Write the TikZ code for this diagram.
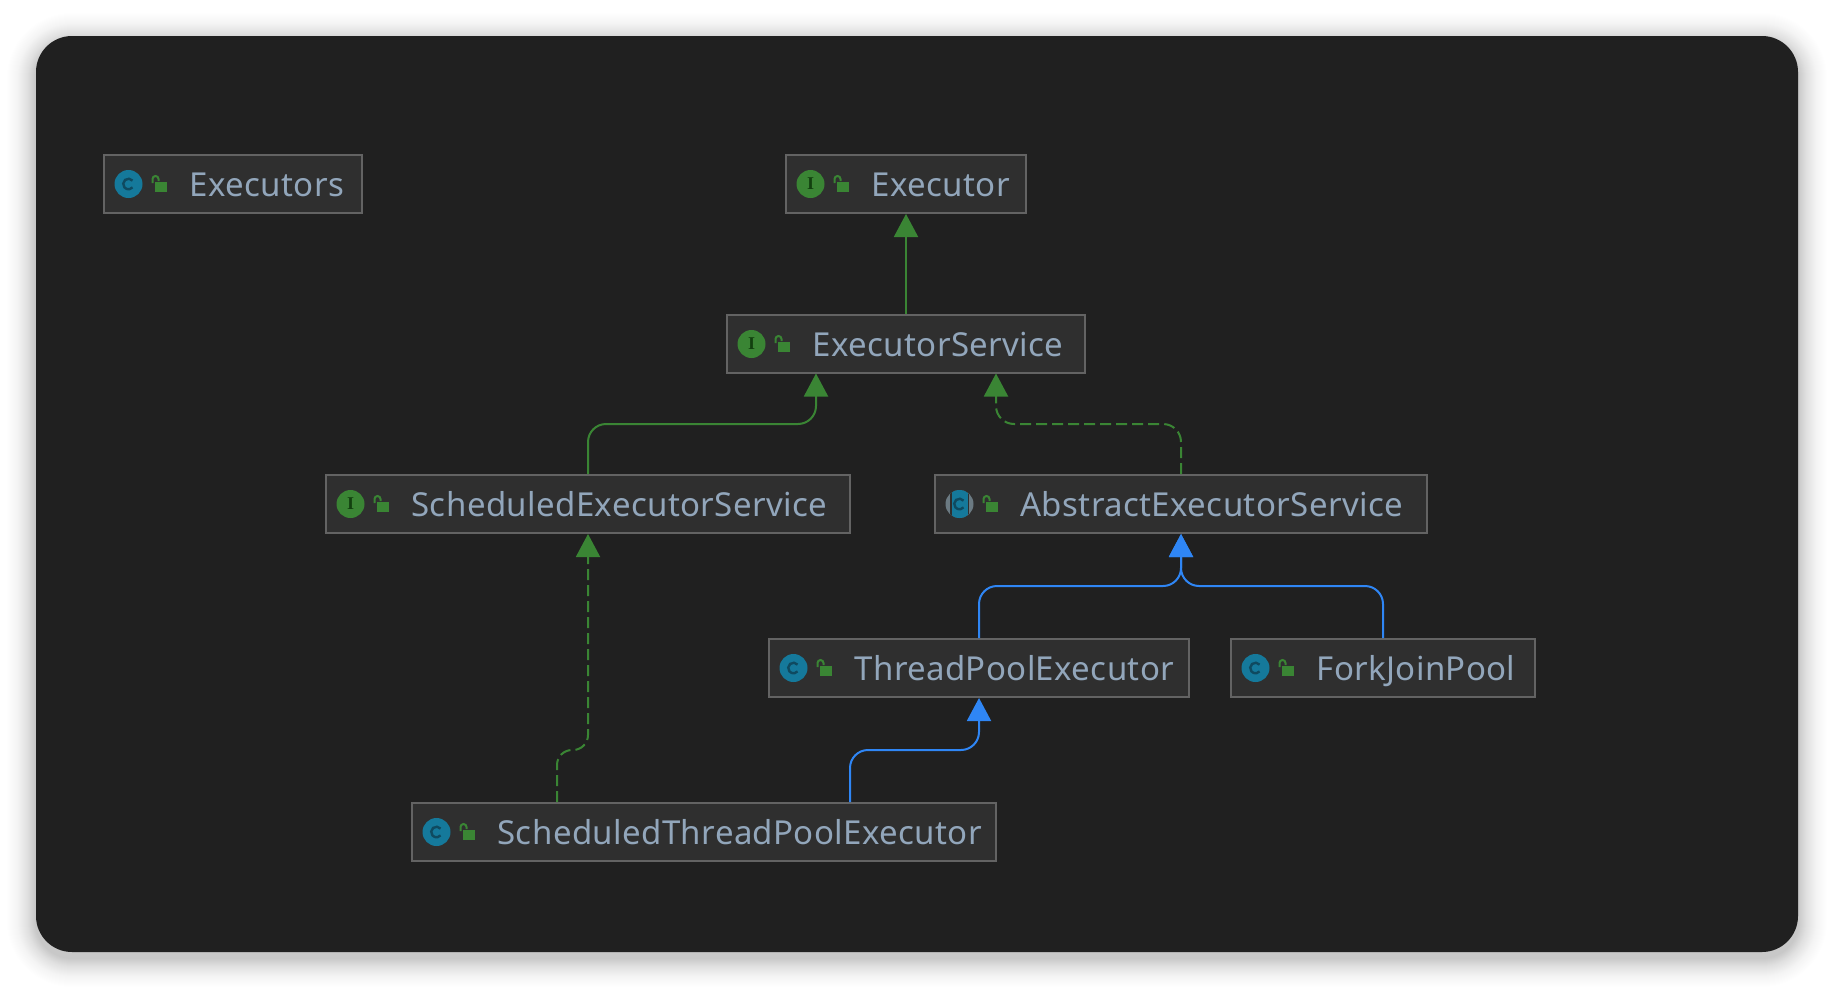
\documentclass[tikz,border=0pt]{standalone}
\usepackage{fontspec}
\setmainfont{Noto Sans}[LetterSpace=1.2]
\newfontfamily\serifb{Liberation Serif}
\usetikzlibrary{arrows.meta,calc}
\definecolor{panel}{HTML}{202020}
\definecolor{boxfill}{HTML}{2F2F2F}
\definecolor{boxline}{HTML}{636363}
\definecolor{labeltext}{HTML}{92A6BB}
\definecolor{gr}{HTML}{3A8534}
\definecolor{bl}{HTML}{2F86F5}
\definecolor{teal}{HTML}{15799B}
\definecolor{tealdark}{HTML}{0F4A60}
\definecolor{grdark}{HTML}{12400F}
\definecolor{lobe}{HTML}{6B7A82}
\tikzset{
  x=1pt,y=-1pt,
  umlbox/.style={draw=boxline,fill=boxfill,line width=2pt,inner sep=0pt,minimum height=58pt,
    text=labeltext,font=\fontsize{33}{33}\selectfont,text height=24pt,text depth=0pt},
  inh/.style={line width=2pt,rounded corners=18pt},
  greenline/.style={inh,draw=gr,-{Triangle[width=24pt,length=23pt,fill=gr]}},
  blueline/.style={inh,draw=bl,-{Triangle[width=24pt,length=23pt,fill=bl]}},
  realiz/.style={dash pattern=on 11pt off 5pt},
  pics/cglyph/.style={code={
    \draw[tealdark,line width=2.4pt] (4.06,-3.4) arc[start angle=40,end angle=320,radius=5.3pt];
  }},
  pics/classicon/.style={code={
    \fill[teal] (0,0) circle[radius=14pt];
    \pic {cglyph};
  }},
  pics/ifaceicon/.style={code={
    \fill[gr] (0,0) circle[radius=14pt];
    \node[inner sep=0pt,text=grdark,font=\serifb\bfseries\fontsize{18}{18}\selectfont] at (0,0) {I};
  }},
  pics/absicon/.style={code={
    \fill[lobe] (0,0) circle[radius=14pt];
    \begin{scope}
      \clip (0,0) circle[radius=14pt];
      \fill[boxfill] (-9.5,-15) rectangle (9.5,15);
      \fill[teal] (-8,-15) rectangle (8,15);
    \end{scope}
    \pic {cglyph};
  }},
  pics/lockicon/.style={code={
    \fill[gr] (0,0) rectangle (12,10);
    \draw[gr,line width=2pt] (-2,1) -- (-2,-3) arc[start angle=180,end angle=0,radius=3pt] -- (4,-1);
  }},
}
\newcommand{\umllabel}[3]{\makebox[#1pt][l]{\hspace{#2pt}#3}}
\begin{document}
\begin{tikzpicture}
\useasboundingbox (0,0) rectangle (1834,988);
\fill[white] (0,0) rectangle (1834,988);
% soft shadow
\foreach \s in {1,2,...,34}{
  \pgfmathsetmacro{\op}{0.00036*(35-\s)}
  \fill[black,opacity=\op,rounded corners=36pt+\s*1pt] (36-\s,42-\s) rectangle (1798+\s,958+\s);
}
\fill[panel,rounded corners=36pt] (36,36) rectangle (1798,952);

\node[umlbox,minimum width=258pt] (executors) at (233,184) {\umllabel{258}{85.5}{Executors}};
\node[umlbox,minimum width=240pt] (executor) at (906,184) {\umllabel{240}{85.5}{Executor}};
\node[umlbox,minimum width=358pt] (service) at (906,344) {\umllabel{358}{85.5}{ExecutorService}};
\node[umlbox,minimum width=524pt] (scheduled) at (588,504) {\umllabel{524}{85.5}{ScheduledExecutorService}};
\node[umlbox,minimum width=492pt] (abstract) at (1181,504) {\umllabel{492}{85.5}{AbstractExecutorService}};
\node[umlbox,minimum width=420pt] (tpe) at (979,668) {\umllabel{420}{85.5}{ThreadPoolExecutor}};
\node[umlbox,minimum width=304pt] (fjp) at (1383,668) {\umllabel{304}{85.5}{ForkJoinPool}};
\node[umlbox,minimum width=584pt] (stpe) at (704,832) {\umllabel{584}{85.5}{ScheduledThreadPoolExecutor}};

\foreach \n/\ic in {executors/classicon,executor/ifaceicon,service/ifaceicon,scheduled/ifaceicon,abstract/absicon,tpe/classicon,fjp/classicon,stpe/classicon}{
  \path ($(\n.west)+(25.5,0)$) pic {\ic};
  \path ($(\n.west)+(51.5,-2)$) pic {lockicon};
}

% connectors
\coordinate (tipA) at (executor.south);
\draw[greenline] (service.north -| executor.south) -- (tipA);
\coordinate (tipB) at (816,373.5);
\draw[greenline] (scheduled.north) -- ($(scheduled.north)+(0,-50)$) -| (tipB);
\coordinate (tipC) at (996,373.5);
\draw[greenline,realiz] (abstract.north) -- ($(abstract.north)+(0,-50)$) -| (tipC);
\coordinate (tipD) at (scheduled.south);
\coordinate (stpeL) at ($(stpe.north west)+(146,0)$);
\draw[greenline,realiz,rounded corners=15pt] (stpeL) -- ($(stpeL)+(0,-52)$) -| (tipD);
\coordinate (tipE) at (abstract.south);
\draw[blueline] (tpe.north) -- ($(tpe.north)+(0,-52)$) -| (tipE);
\draw[blueline] (fjp.north) -- ($(fjp.north)+(0,-52)$) -| (tipE);
\coordinate (tipF) at (tpe.south);
\coordinate (stpeR) at ($(stpe.north west)+(439,0)$);
\draw[blueline] (stpeR) -- ($(stpeR)+(0,-52)$) -| (tipF);
\end{tikzpicture}
\end{document}
